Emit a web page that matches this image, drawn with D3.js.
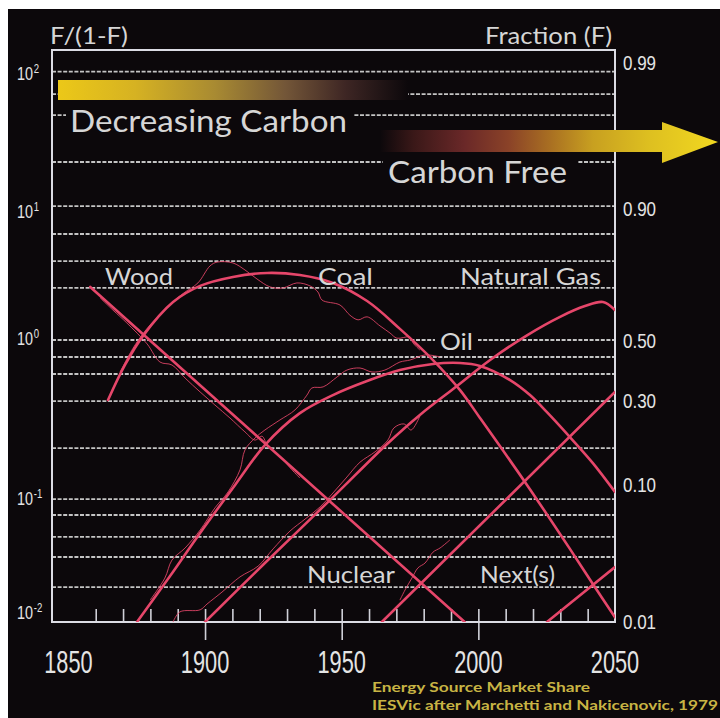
<!DOCTYPE html>
<html><head><meta charset="utf-8">
<script src="https://cdn.jsdelivr.net/npm/d3@7"></script>
<style>html,body{margin:0;padding:0;background:#fff;}svg{display:block}</style>
</head><body>
<svg id="chart" width="720" height="718"></svg>
<script>
// ---------- DATA (year, F/(1-F)) ----------
const woodYears  = [1858, 1995];
const woodValues = [2.38, 0.01];

const coalYears  = [1864.5, 1870.7, 1877.3, 1888.3, 1898.2, 1910.2, 1922.7, 1934.7, 1946.8, 1959.3, 1971.3, 1983.4, 1993.3, 2000.6, 2017.8, 2033.5, 2041.9, 2050];
const coalValues = [0.375, 0.665, 1.07, 1.86, 2.42, 2.80, 2.99, 2.89, 2.54, 1.89, 1.20, 0.721, 0.441, 0.280, 0.0938, 0.033, 0.0186, 0.0108];

const oilYears  = [1875.1, 1887.2, 1898.2, 1911.0, 1921.9, 1934.7, 1946.8, 1959.3, 1971.3, 1983.4, 1993.3, 2000.6, 2011.6, 2018.9, 2025.1, 2033.5, 2041.9, 2050];
const oilValues = [0.01, 0.0212, 0.0428, 0.0938, 0.180, 0.303, 0.407, 0.512, 0.612, 0.676, 0.687, 0.655, 0.520, 0.407, 0.308, 0.205, 0.134, 0.0836];

const gasYears  = [1900.0, 1921.9, 1945.7, 1966.6, 1978.6, 1992.2, 2004.3, 2017.8, 2029.9, 2039.0, 2045.6, 2050];
const gasValues = [0.01, 0.0262, 0.0732, 0.183, 0.294, 0.472, 0.721, 1.08, 1.46, 1.74, 1.86, 1.63];

const nuclearYears  = [1964.7, 2050];
const nuclearValues = [0.01, 0.428];

const nextYears  = [2025.1, 2050];
const nextValues = [0.01, 0.0245];

// historical (observed) data, thin wiggly lines
const woodHistYears  = [1861.6, 1866.3, 1871.4, 1878.8, 1883.5, 1887.9, 1892.7, 1898.2, 1903.6, 1909.1, 1914.6, 1918.3, 1920.8, 1923.0, 1927.4, 1931.1, 1934.7];
const woodHistValues = [1.99, 1.63, 1.32, 0.938, 0.698, 0.665, 0.537, 0.428, 0.346, 0.280, 0.223, 0.195, 0.208, 0.177, 0.150, 0.124, 0.105];

const coalHistYears  = [1868.9, 1874.4, 1879.9, 1885.3, 1889.0, 1892.7, 1897.4, 1901.8, 1904.4, 1910.2, 1914.6, 1919.0, 1923.8, 1928.5, 1933.6, 1938.4, 1941.3, 1942.8, 1949.4, 1953.0, 1956.0, 1959.3, 1964.0, 1967.7, 1970.2, 1975.0, 1976.1, 1978.6];
const coalHistValues = [0.593, 0.923, 1.28, 1.63, 1.92, 2.19, 2.54, 3.35, 3.57, 3.52, 3.14, 2.71, 2.38, 2.34, 2.54, 2.42, 2.19, 1.92, 1.77, 1.50, 1.39, 1.46, 1.26, 1.12, 1.03, 1.05, 0.953, 0.849];

const oilHistYears  = [1879.9, 1885.3, 1887.9, 1892.7, 1898.2, 1903.6, 1908.4, 1912.8, 1914.6, 1918.3, 1921.9, 1927.4, 1932.9, 1937.3, 1939.1, 1943.2, 1948.3, 1951.9, 1956.7, 1961.1, 1965.8, 1971.3, 1975.0, 1980.5, 1986.0];
const oilHistValues = [0.0143, 0.0205, 0.0275, 0.0335, 0.0449, 0.0644, 0.0836, 0.120, 0.166, 0.202, 0.230, 0.271, 0.319, 0.407, 0.457, 0.465, 0.547, 0.612, 0.633, 0.593, 0.612, 0.698, 0.721, 0.784, 0.758];

const gasHistYears  = [1888.3, 1890.8, 1898.2, 1900.7, 1906.2, 1912.8, 1919.4, 1924.9, 1931.1, 1936.6, 1942.1, 1946.8, 1951.6, 1956.7, 1962.2, 1966.9, 1969.1, 1972.8, 1975.4, 1978.6];
const gasHistValues = [0.01, 0.0118, 0.0122, 0.0134, 0.0163, 0.0209, 0.0249, 0.033, 0.0442, 0.0537, 0.0655, 0.0822, 0.105, 0.136, 0.161, 0.195, 0.238, 0.254, 0.230, 0.289];

const nucHistYears  = [1971.3, 1973.2, 1975.7, 1977.9, 1980.5, 1983.4, 1986.0, 1989.6];
const nucHistValues = [0.0143, 0.0169, 0.0205, 0.0242, 0.0262, 0.0313, 0.0335, 0.0382];

// grid lines (F/(1-F) values)
const gridValues = [80, 55.5, 39.4, 18.3, 8.9, 5.65, 3.63, 2.34, 1, 0.758, 0.574, 0.369, 0.171, 0.0745, 0.0574, 0.0401, 0.0289, 0.0177];

// tick labels
const xMinorTicks = [1860,1870,1880,1890,1900,1910,1920,1930,1940,1950,1960,1970,1980,1990,2000,2010,2020,2030,2040];
const xMajorTicks = [1900, 1950, 2000];
const xLabels = [1850, 1900, 1950, 2000, 2050];
const leftLabelExp = ["2", "1", "0", "-1", "-2"];
const leftLabelAt  = [78, 8.2, 1.03, 0.0757, 0.0116];
const rightLabels  = ["0.99", "0.90", "0.50", "0.30", "0.10", "0.01"];
const rightLabelAt = [92, 8.5, 0.985, 0.369, 0.0937, 0.01];

// ---------- LAYOUT ----------
const svg = d3.select("#chart");
const plot = {left: 52, right: 615, top: 50, bottom: 622};
const x = d3.scaleLinear().domain([1844, 2050]).range([plot.left, plot.right]);
const y = d3.scaleLog().domain([0.01, 114]).range([plot.bottom, plot.top]);

const RED = "#e6466a";
const BG = "#0c080b";
const TXT = "#d6d6d6";
const FONT = "Lato, 'Open Sans', 'Noto Sans', sans-serif";
const NUMFONT = "'Liberation Sans', Arial, sans-serif";

svg.append("rect").attr("width", 720).attr("height", 718).attr("fill", "#fff");
svg.append("rect").attr("x", 8).attr("y", 9).attr("width", 712).attr("height", 709).attr("fill", BG);

const defs = svg.append("defs");
defs.append("clipPath").attr("id", "plotclip").append("rect")
  .attr("x", plot.left).attr("y", plot.top)
  .attr("width", plot.right - plot.left).attr("height", plot.bottom - plot.top);

const g1 = defs.append("linearGradient").attr("id", "gradDec").attr("x1", "0").attr("x2", "1").attr("y1", "0").attr("y2", "0");
[[0, "#ecc818"], [0.22, "#d6b222"], [0.45, "#a88a32"], [0.65, "#735638"], [0.82, "#3e2624"], [1, BG]]
  .forEach(s => g1.append("stop").attr("offset", s[0]).attr("stop-color", s[1]));
const g2 = defs.append("linearGradient").attr("id", "gradFree").attr("x1", "0").attr("x2", "1").attr("y1", "0").attr("y2", "0");
[[0, BG], [0.1, "#3a1818"], [0.25, "#6a2828"], [0.38, "#8a4228"], [0.5, "#a86e22"], [0.63, "#c8a020"], [0.8, "#dec020"], [1, "#f2d820"]]
  .forEach(s => g2.append("stop").attr("offset", s[0]).attr("stop-color", s[1]));

// grid lines
svg.append("g").selectAll("line").data(gridValues).join("line")
  .attr("x1", plot.left).attr("x2", plot.right)
  .attr("y1", d => y(d)).attr("y2", d => y(d))
  .attr("stroke", "#c4c4c4").attr("stroke-width", 1.8).attr("stroke-dasharray", "4,1.6");

// bottom ticks
const minorAxis = d3.axisBottom(x).tickValues(xMinorTicks).tickSize(-13).tickFormat("");
const gMinor = svg.append("g").attr("transform", `translate(0,${plot.bottom})`).call(minorAxis);
const majorAxis = d3.axisBottom(x).tickValues(xMajorTicks).tickSize(18).tickFormat("");
const gMajor = svg.append("g").attr("transform", `translate(0,${plot.bottom})`).call(majorAxis);
[gMinor, gMajor].forEach(g => {
  g.select(".domain").remove();
  g.selectAll("line").attr("stroke", "#d0d0d8").attr("stroke-width", 1.6);
});

// frame
svg.append("rect").attr("x", plot.left).attr("y", plot.top)
  .attr("width", plot.right - plot.left).attr("height", plot.bottom - plot.top)
  .attr("fill", "none").attr("stroke", "#dcdce4").attr("stroke-width", 2);

// curves
const line = d3.line().x(d => x(d[0])).y(d => y(d[1])).curve(d3.curveCatmullRom.alpha(0.5));
const zip = (a, b) => a.map((v, i) => [v, b[i]]);
const curves = svg.append("g").attr("clip-path", "url(#plotclip)");

const hist = [[woodHistYears, woodHistValues], [coalHistYears, coalHistValues], [oilHistYears, oilHistValues], [gasHistYears, gasHistValues], [nucHistYears, nucHistValues]];
curves.selectAll("path.hist").data(hist).join("path").attr("class", "hist")
  .attr("d", d => line(zip(d[0], d[1])))
  .attr("fill", "none").attr("stroke", RED).attr("stroke-width", 1).attr("opacity", 0.85);

const fits = [[woodYears, woodValues], [coalYears, coalValues], [oilYears, oilValues], [gasYears, gasValues], [nuclearYears, nuclearValues], [nextYears, nextValues]];
curves.selectAll("path.fit").data(fits).join("path").attr("class", "fit")
  .attr("d", d => line(zip(d[0], d[1])))
  .attr("fill", "none").attr("stroke", RED).attr("stroke-width", 2.6).attr("stroke-linecap", "round");

// decreasing carbon bar
svg.append("rect").attr("x", 58).attr("y", 80).attr("width", 350).attr("height", 20).attr("fill", "url(#gradDec)");

// text label helper
function label(txt, x0, yb, size, len, opts = {}) {
  if (opts.box) {
    svg.append("rect").attr("x", opts.box[0]).attr("y", opts.box[1])
      .attr("width", opts.box[2]).attr("height", opts.box[3]).attr("fill", BG);
  }
  return svg.append("text").attr("x", x0).attr("y", yb).text(txt)
    .attr("font-family", opts.font || FONT).attr("font-size", size)
    .attr("font-weight", opts.weight || 400)
    .attr("font-style", opts.style || "normal")
    .attr("fill", opts.fill || TXT)
    .attr("textLength", len).attr("lengthAdjust", "spacingAndGlyphs");
}

label("Decreasing Carbon", 70, 132, 30, 277, {box: [66, 104, 288, 36]});
label("Carbon Free", 388, 183, 31, 179, {box: [383, 153, 194, 38]});

// carbon free arrow
svg.append("path")
  .attr("d", "M380,130 L662,130 L662,122 L718,142 L662,163 L662,152 L380,152 Z")
  .attr("fill", "url(#gradFree)");

label("F/(1-F)", 50, 44, 23, 78);
label("Fraction (F)", 485, 44, 23, 127);
label("Wood", 105, 285, 24, 68);
label("Coal", 318, 285, 24, 55);
label("Natural Gas", 460, 285, 24, 141);
label("Oil", 440, 350, 24, 33, {box: [435, 330, 43, 22]});
label("Nuclear", 307, 583, 23, 88);
label("Next(s)", 480, 583, 23, 75);

// caption
label("Energy Source Market Share", 372, 692, 13, 218, {weight: 700, fill: "#c8b444"});
label("IESVic after Marchetti and Nakicenovic, 1979", 372, 710, 13, 346, {weight: 700, fill: "#c8b444"});

// bottom labels
svg.append("g").selectAll("text").data(xLabels).join("text")
  .attr("transform", d => `translate(${x(d)},673) scale(0.68,1)`)
  .attr("text-anchor", "middle")
  .attr("font-family", NUMFONT).attr("font-size", 32).attr("fill", "#e4e4e4")
  .text(d => d);

// left labels
const lg = svg.append("g").selectAll("text").data(leftLabelExp).join("text")
  .attr("transform", (d, i) => `translate(17,${y(leftLabelAt[i]) + 6.5}) scale(0.8,1)`)
  .attr("font-family", NUMFONT).attr("font-size", 18).attr("fill", "#e4e4e4");
lg.append("tspan").text("10");
lg.append("tspan").attr("font-size", 12).attr("dy", -7).attr("dx", 1).text(d => d);

// right labels
svg.append("g").selectAll("text").data(rightLabels).join("text")
  .attr("transform", (d, i) => `translate(623,${y(rightLabelAt[i]) + 7}) scale(0.85,1)`)
  .attr("font-family", NUMFONT).attr("font-size", 20).attr("fill", "#e4e4e4")
  .text(d => d);
</script>
</body></html>
